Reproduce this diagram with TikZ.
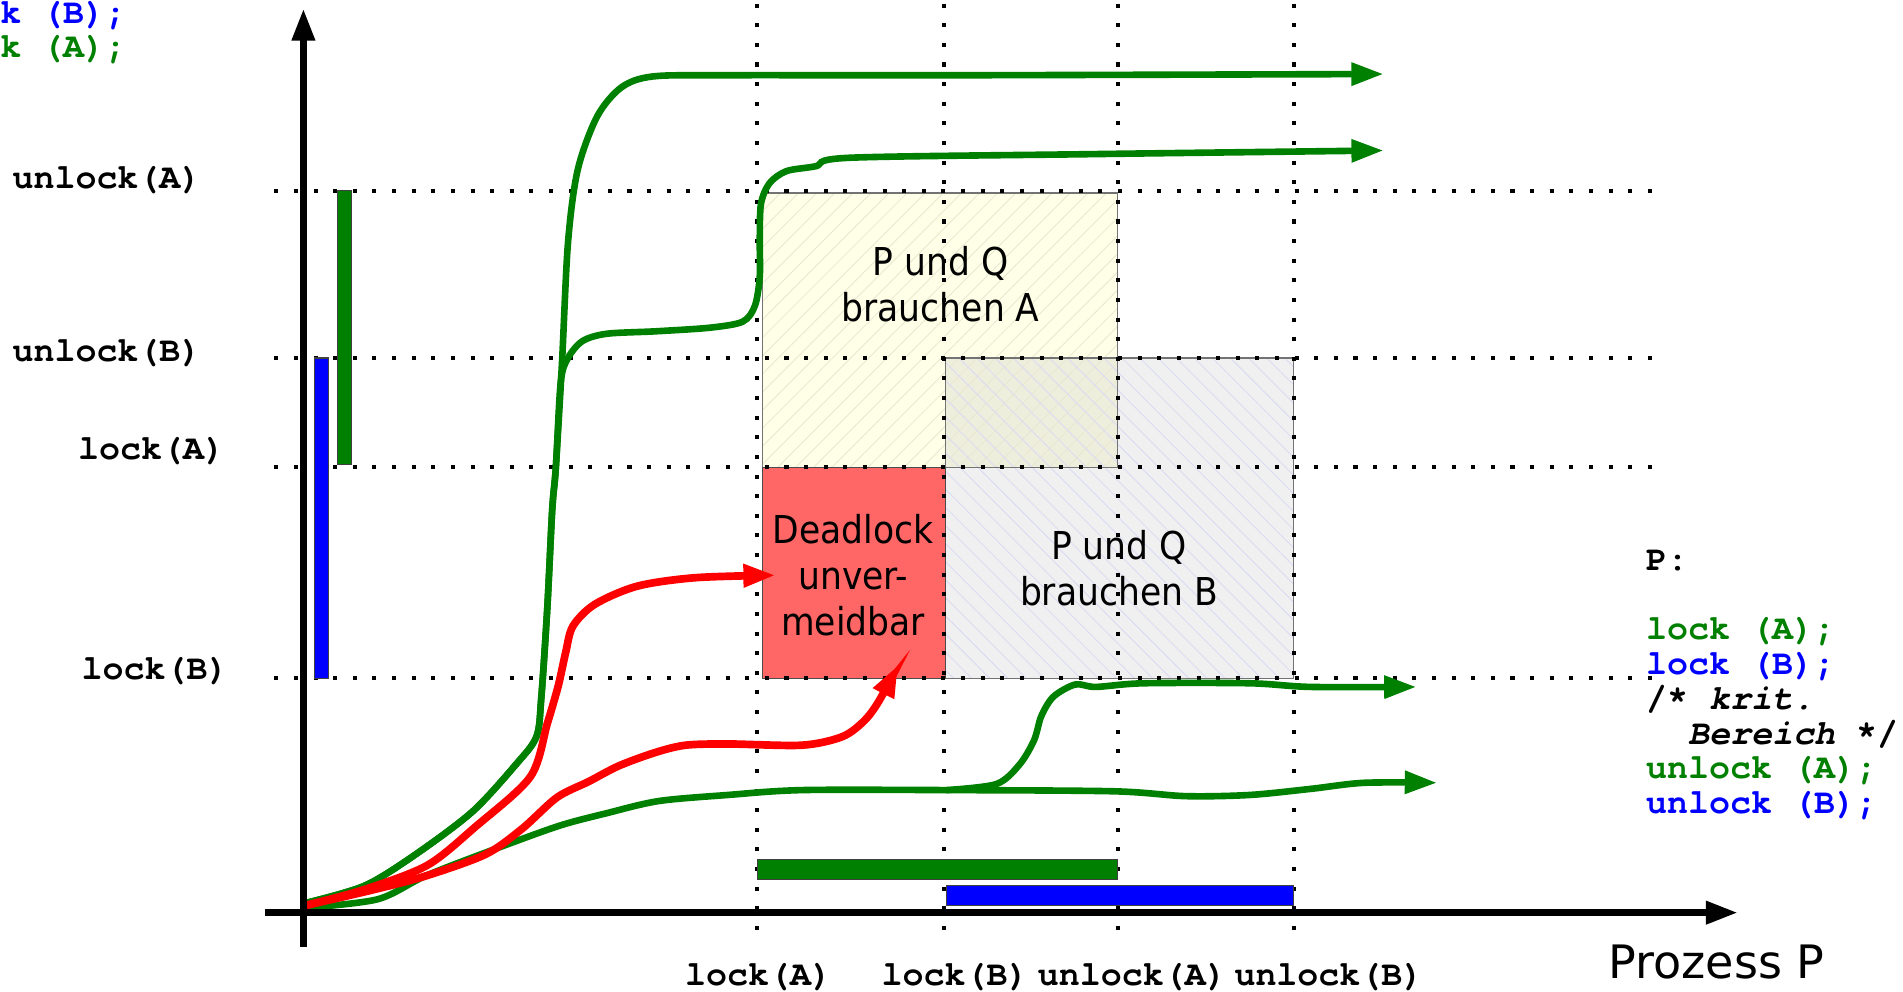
\documentclass[tikz,border=0pt]{standalone}
\usepackage{fontspec}
\setmainfont{DejaVu Sans}
\setmonofont{TeX Gyre Cursor}
\newfontfamily\regionfont[FakeStretch=0.9]{DejaVu Sans}
\usetikzlibrary{arrows.meta}
\usetikzlibrary{patterns.meta}

\definecolor{codegreen}{RGB}{0,128,0}
\definecolor{codeblue}{RGB}{0,0,255}
\definecolor{deadred}{RGB}{255,102,102}
\definecolor{needA}{RGB}{255,255,232}
\definecolor{needB}{RGB}{240,240,240}
\definecolor{needAB}{RGB}{238,238,221}
\definecolor{hatchAcol}{RGB}{232,232,210}
\definecolor{hatchBcol}{RGB}{218,218,245}

\begin{document}
\begin{tikzpicture}[x=0.2mm, y=-0.2mm,
    codetext/.style={font=\fontsize{16.4}{16.8}\selectfont\ttfamily\bfseries, inner sep=0pt},
    regiontext/.style={font=\fontsize{18}{21.5}\selectfont\regionfont, align=center, inner sep=0pt},
    guide/.style={line width=1.9pt, dash pattern=on 1.9pt off 7.3pt},
    lockbar/.style={draw=black!75, line width=0.5pt},
    trace/.style={line width=3.1pt, line cap=round, -{Triangle[length=5.3mm,width=3.6mm]}},
    axis/.style={line width=3.4pt, -{Triangle[length=5.3mm,width=3.6mm]}},
    hatchA/.style={postaction={pattern={Lines[angle=45,distance=6pt,line width=0.4pt]}, pattern color=hatchAcol}},
    hatchB/.style={postaction={pattern={Lines[angle=-45,distance=6pt,line width=0.4pt]}, pattern color=hatchBcol}}]
  \useasboundingbox (0,0) rectangle (1568,817);

  % Regions where both processes hold A resp. B
  \fill[needA, hatchA] (628,159) rectangle (921,385);
  \fill[needB, hatchB] (779,295) rectangle (1066,559);
  \fill[needAB, hatchA, hatchB] (779,295) rectangle (921,385);
  \draw[black!55, line width=0.6pt] (628,159) rectangle (921,385);
  \draw[black!55, line width=0.6pt] (779,295) rectangle (1066,559);
  \filldraw[fill=deadred, draw=black!70, line width=0.6pt] (628,385) rectangle (779,559);

  \node[regiontext] (bothA) at (775,234) {P und Q\\brauchen A};
  \node[regiontext] (bothB) at (922,468) {P und Q\\brauchen B};
  \node[regiontext] (deadlock) at (703,474) {Deadlock\\unver-\\meidbar};

  % Dotted guides for the lock operations
  \foreach \x in {624,778,921,1066} {
    \draw[guide] (\x,3) -- (\x,772);
  }
  \foreach \y in {157,295,385,559} {
    \draw[guide] (226,\y) -- (1368,\y);
  }

  % Critical sections of P and Q
  \filldraw[lockbar, fill=codegreen] (278,157) rectangle (290,383);
  \filldraw[lockbar, fill=codeblue] (259,295) rectangle (271,559);
  \filldraw[lockbar, fill=codegreen] (624,708) rectangle (921,725);
  \filldraw[lockbar, fill=codeblue] (780,730) rectangle (1066,746);

  % Possible runs
  \draw[trace, codegreen] plot[smooth, tension=0.5] coordinates {(252,744) (300,730) (341,705) (389,669) (425,630) (442,607) (446,575) (451,500) (455,420) (458,385) (463,300) (468,200) (476,140) (492,96) (512,72) (538,63) (600,62) (800,62) (1140,61)};
  \draw[trace, codegreen] plot[smooth, tension=0.5] coordinates {(252,744) (300,730) (341,705) (389,669) (425,630) (442,607) (446,575) (451,500) (455,420) (458,385) (462,315) (468,295) (480,281) (500,275) (540,273) (585,270) (612,265) (622,252) (626,228) (626,198) (627,168) (634,151) (648,141) (672,137) (700,130) (900,127) (1140,124)};
  \draw[trace, codegreen] plot[smooth, tension=0.5] coordinates {(252,748) (311,741) (350,722) (396,704) (459,681) (500,670) (543,660) (600,655) (661,651) (780,651) (918,652) (977,656) (1030,655) (1080,650) (1124,645) (1184,645)};
  \draw[trace, codegreen] plot[smooth, tension=0.5] coordinates {(780,651) (821,646) (840,630) (852,610) (858,590) (868,574) (886,564) (903,566) (942,563) (1030,563) (1080,566) (1167,566)};
  \draw[trace, red, line width=3.6pt] plot[smooth, tension=0.5] coordinates {(252,746) (300,733) (352,713) (392,681) (437,640) (451,596) (460,565) (466,538) (472,516) (490,498) (525,483) (573,476) (639,474)};
  \draw[trace, red, line width=3.6pt] plot[smooth, tension=0.5] coordinates {(252,746) (304,734) (350,722) (400,704) (430,683) (459,657) (485,644) (510,631) (540,620) (565,614) (600,613) (661,614) (694,607) (712,594) (724,578) (740,548)};

  % Axes
  \draw[axis] (250,780) -- (250,7);
  \draw[axis] (218,752) -- (1432,752);

  % Labels of the axes
  \node[codetext, anchor=base west] (yUnlockA) at (10,155) {unlock(A)};
  \node[codetext, anchor=base west] (yUnlockB) at (10,298) {unlock(B)};
  \node[codetext, anchor=base west] (yLockA) at (64,379) {lock(A)};
  \node[codetext, anchor=base west] (yLockB) at (67,560) {lock(B)};
  \node[codetext, anchor=base] (xLockA) at (625,812) {lock(A)};
  \node[codetext, anchor=base] (xLockB) at (787,812) {lock(B)};
  \node[codetext, anchor=base] (xUnlockA) at (933,812) {unlock(A)};
  \node[codetext, anchor=base] (xUnlockB) at (1095,812) {unlock(B)};
  \node[font=\fontsize{21.6}{24}\selectfont, anchor=base west, inner sep=0pt] (xName) at (1325,806) {Prozess P};

  % Program text of Q (cut off) and P
  \node[codetext, text=codeblue, anchor=base west] (progQb) at (-52,19) {lock (B);};
  \node[codetext, text=codegreen, anchor=base west] (progQa) at (-52,47) {lock (A);};
  \node[codetext, anchor=base west] (progP) at (1356,470) {P:};
  \foreach \line/\col [count=\i from 0] in {{lock (A);}/codegreen, {lock (B);}/codeblue, {/* \textit{krit.}}/black, {\hspace*{1.2em}\textit{Bereich} */}/black, {unlock (A);}/codegreen, {unlock (B);}/codeblue} {
    \node[codetext, text=\col, anchor=base west] (progP\i) at (1356,527+28.7*\i) {\line};
  }
\end{tikzpicture}
\end{document}
